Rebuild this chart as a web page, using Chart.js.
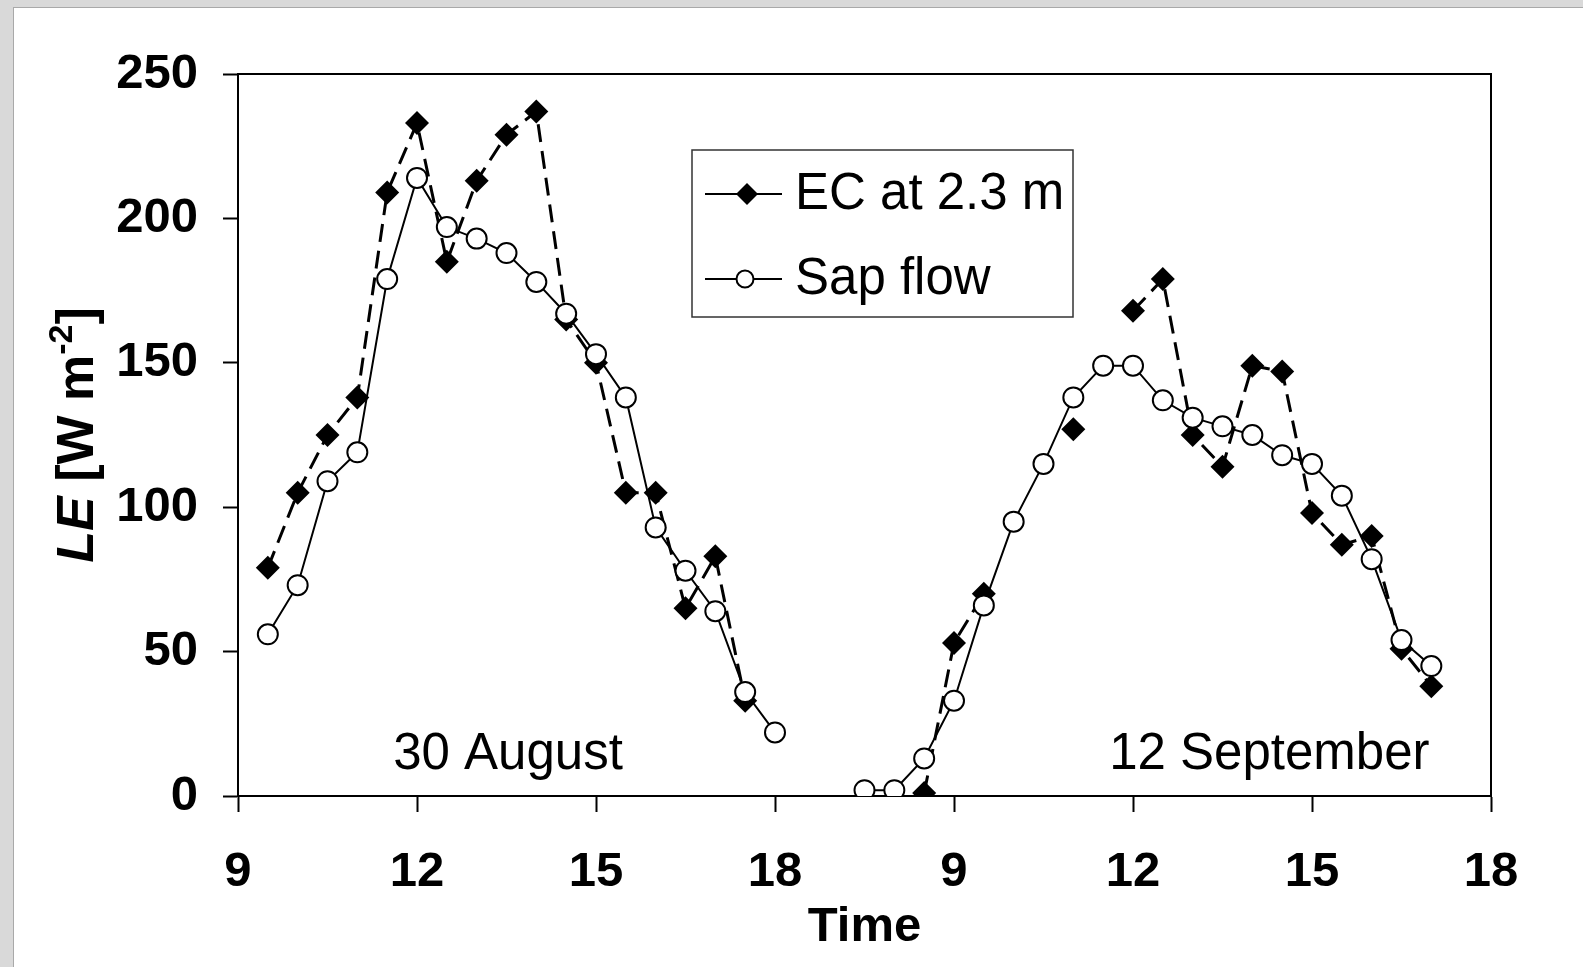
<!DOCTYPE html>
<html>
<head>
<meta charset="utf-8">
<title>LE – EC vs sap flow</title>
<script src="https://cdn.jsdelivr.net/npm/chart.js@4.4.1/dist/chart.umd.min.js"></script>
<style>
  html, body { margin: 0; padding: 0; background: #d9d9d9; overflow: hidden; }
  #panel {
    position: absolute; left: 13px; top: 7px; right: 0; bottom: 0;
    background: #fff; border-left: 1px solid #a9a9a9; border-top: 1px solid #a9a9a9;
  }
  #wrap { position: absolute; left: 0; top: 0; width: 1583px; height: 967px; }
</style>
</head>
<body>
<div id="panel"></div>
<div id="wrap"><canvas id="leChart"></canvas></div>
<script>
// 30 August, half-hourly (local time)
const augTimes = [9.5, 10, 10.5, 11, 11.5, 12, 12.5, 13, 13.5, 14, 14.5, 15, 15.5, 16, 16.5, 17, 17.5, 18];
const ecAug    = [79, 105, 125, 138, 209, 233, 185, 213, 229, 237, 165, 150, 105, 105, 65, 83, 33, null];
const sapAug   = [56, 73, 109, 119, 179, 214, 197, 193, 188, 178, 167, 153, 138, 93, 78, 64, 36, 22];

// 12 September, half-hourly (gaps in EC = missing values)
const sepTimes = [7.5, 8, 8.5, 9, 9.5, 10, 10.5, 11, 11.5, 12, 12.5, 13, 13.5, 14, 14.5, 15, 15.5, 16, 16.5, 17];
const ecSep    = [null, null, 1, 53, 70, null, null, 127, null, 168, 179, 125, 114, 149, 147, 98, 87, 90, 51, 38];
const sapSep   = [2, 2, 13, 33, 66, 95, 115, 138, 149, 149, 137, 131, 128, 125, 118, 115, 104, 82, 54, 45];

// x axis is one continuous scale: 9..18 of day 1, then 6..18 of day 2
const tickLabels = ['9', '12', '15', '18', '9', '12', '15', '18'];
const augOffset = -9;
const sepOffset = 3;

const seriesNames = ['EC at 2.3 m', 'Sap flow'];
const dayNames = ['30 August', '12 September'];

const FONT = '"Liberation Sans", Arial, Helvetica, sans-serif';

function toPoints(times, values, offset) {
    return times.map((h, i) => ({ x: h + offset, y: values[i] }));
}

const ecStyle = {
    borderColor: '#000',
    borderWidth: 3,
    borderDash: [18, 9],
    pointStyle: 'rectRot',
    pointRadius: 12,
    pointHoverRadius: 12,
    pointBackgroundColor: '#000',
    pointBorderColor: '#000',
    pointBorderWidth: 0,
    fill: false,
    tension: 0,
    spanGaps: false,
    order: 2
};

const sapStyle = {
    borderColor: '#000',
    borderWidth: 2,
    pointStyle: 'circle',
    pointRadius: 10,
    pointHoverRadius: 10,
    pointBackgroundColor: '#fff',
    pointBorderColor: '#000',
    pointBorderWidth: 2,
    fill: false,
    tension: 0,
    spanGaps: false,
    order: 1
};

// draws the frame, the day labels, the legend box and the y title
const decorations = {
    id: 'decorations',
    beforeDatasetsDraw(chart) {
        const { ctx, chartArea: a } = chart;
        ctx.save();
        ctx.strokeStyle = '#000';
        ctx.lineWidth = 2;
        ctx.beginPath();
        ctx.moveTo(a.left, a.top);
        ctx.lineTo(a.right, a.top);
        ctx.lineTo(a.right, a.bottom);
        ctx.stroke();
        ctx.restore();
    },
    afterDatasetsDraw(chart) {
        const { ctx, chartArea: a, scales } = chart;
        ctx.save();

        // day labels
        ctx.fillStyle = '#000';
        ctx.font = '51px ' + FONT;
        ctx.textAlign = 'left';
        ctx.textBaseline = 'alphabetic';
        ctx.fillText(dayNames[0], scales.x.getPixelForValue(2.6), scales.y.getPixelForValue(9.5));
        ctx.fillText(dayNames[1], scales.x.getPixelForValue(14.6), scales.y.getPixelForValue(9.5));

        // legend
        const lx = a.left + 454, ly = a.top + 76, lw = 381, lh = 167;
        ctx.fillStyle = '#fff';
        ctx.fillRect(lx, ly, lw, lh);
        ctx.strokeStyle = '#333';
        ctx.lineWidth = 1.5;
        ctx.strokeRect(lx, ly, lw, lh);

        const rows = [ly + 44, ly + 129];
        ctx.strokeStyle = '#000';
        ctx.lineWidth = 2;
        rows.forEach(ry => {
            ctx.beginPath();
            ctx.moveTo(lx + 13, ry);
            ctx.lineTo(lx + 90, ry);
            ctx.stroke();
        });
        // diamond
        const dx = lx + 55, dy = rows[0], dr = 11;
        ctx.fillStyle = '#000';
        ctx.beginPath();
        ctx.moveTo(dx, dy - dr);
        ctx.lineTo(dx + dr, dy);
        ctx.lineTo(dx, dy + dr);
        ctx.lineTo(dx - dr, dy);
        ctx.closePath();
        ctx.fill();
        // circle
        ctx.fillStyle = '#fff';
        ctx.beginPath();
        ctx.arc(lx + 53, rows[1], 8.5, 0, Math.PI * 2);
        ctx.fill();
        ctx.stroke();

        ctx.fillStyle = '#000';
        ctx.font = '51px ' + FONT;
        ctx.textBaseline = 'middle';
        ctx.fillText(seriesNames[0], lx + 103, rows[0] + 1);
        ctx.fillText(seriesNames[1], lx + 103, rows[1] + 1);

        // y title: LE [W m-2], rotated
        const parts = [
            { t: 'LE', f: 'italic bold 52px ' + FONT, dy: 0 },
            { t: ' [W m', f: 'bold 52px ' + FONT, dy: 0 },
            { t: '-2', f: 'bold 34px ' + FONT, dy: -16 },
            { t: ']', f: 'bold 52px ' + FONT, dy: 0 }
        ];
        let total = 0;
        parts.forEach(p => { ctx.font = p.f; p.w = ctx.measureText(p.t).width; total += p.w; });
        ctx.translate(79, (a.top + a.bottom) / 2);
        ctx.rotate(-Math.PI / 2);
        ctx.textBaseline = 'middle';
        let cx = -total / 2;
        parts.forEach(p => {
            ctx.font = p.f;
            ctx.fillText(p.t, cx, p.dy);
            cx += p.w;
        });
        ctx.restore();
    }
};

const ctx = document.getElementById('leChart').getContext('2d');
const chart = new Chart(ctx, {
    type: 'line',
    data: {
        datasets: [
            { label: seriesNames[0], data: toPoints(augTimes, ecAug, augOffset), ...ecStyle },
            { label: seriesNames[0], data: toPoints(sepTimes, ecSep, sepOffset), ...ecStyle },
            { label: seriesNames[1], data: toPoints(augTimes, sapAug, augOffset), ...sapStyle },
            { label: seriesNames[1], data: toPoints(sepTimes, sapSep, sepOffset), ...sapStyle }
        ]
    },
    options: {
        responsive: true,
        maintainAspectRatio: false,
        animation: false,
        layout: { padding: { top: 74, right: 92, left: 0, bottom: 0 } },
        scales: {
            x: {
                type: 'linear',
                min: 0,
                max: 21,
                ticks: {
                    stepSize: 3,
                    color: '#000',
                    font: { family: FONT, size: 49, weight: 'bold' },
                    padding: 31,
                    maxRotation: 0,
                    callback: v => tickLabels[Math.round(v / 3)]
                },
                grid: { drawOnChartArea: false, drawTicks: true, tickLength: 16, tickWidth: 2, tickColor: '#000' },
                border: { color: '#000', width: 2 },
                title: {
                    display: true,
                    text: 'Time',
                    color: '#000',
                    font: { family: FONT, size: 49, weight: 'bold' },
                    padding: { top: 0, bottom: 10 }
                },
                afterFit: s => { s.height = 171; }
            },
            y: {
                min: 0,
                max: 250,
                ticks: {
                    stepSize: 50,
                    color: '#000',
                    font: { family: FONT, size: 49, weight: 'bold' },
                    padding: 25
                },
                grid: { drawOnChartArea: false, drawTicks: true, tickLength: 15, tickWidth: 2, tickColor: '#000' },
                border: { color: '#000', width: 2 },
                afterFit: s => { s.width = 238; }
            }
        },
        plugins: {
            legend: { display: false },
            tooltip: { enabled: false }
        }
    },
    plugins: [decorations]
});
</script>
</body>
</html>
